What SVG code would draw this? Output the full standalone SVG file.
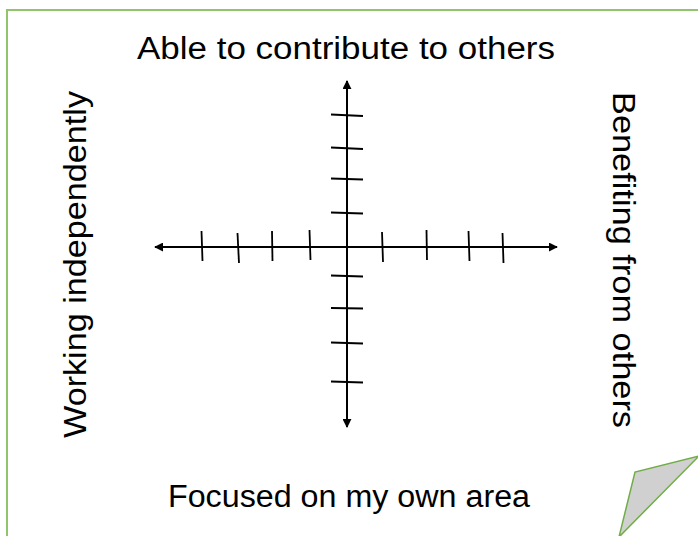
<svg xmlns="http://www.w3.org/2000/svg" width="698" height="536" viewBox="0 0 698 536">
  <defs>
    <style>
      .lbl { font-family: "Liberation Sans", Arial, sans-serif; font-size: 31px; fill: #000; }
      .axis { stroke: #000; stroke-width: 2; fill: none; }
      .tick { stroke: #000; stroke-width: 1.8; fill: none; }
    </style>
    <marker id="arrow" viewBox="0 0 10 10" refX="9" refY="5" markerWidth="4.5" markerHeight="4.5" orient="auto-start-reverse" markerUnits="strokeWidth">
      <path d="M0,0 L10,5 L0,10 z" fill="#000"/>
    </marker>
  </defs>
  <rect width="698" height="536" fill="#fff"/>
  <g id="frame">
    <rect x="7" y="10" width="700" height="540" fill="none" stroke="#92c46c" stroke-width="2"/>
  </g>
  <g id="fold">
    <polygon points="619,537 635,472 699,456" fill="#d0d0d0" stroke="#70ad47" stroke-width="1.5" stroke-linejoin="miter"/>
  </g>
  <g id="label-top">
    <text class="lbl" x="137" y="59" textLength="418" lengthAdjust="spacingAndGlyphs">Able to contribute to others</text>
  </g>
  <g id="label-bottom">
    <text class="lbl" x="168" y="507" textLength="362" lengthAdjust="spacingAndGlyphs">Focused on my own area</text>
  </g>
  <g id="label-left">
    <text class="lbl" transform="translate(86,438) rotate(-90)" x="0" y="0" textLength="347" lengthAdjust="spacingAndGlyphs">Working independently</text>
  </g>
  <g id="label-right">
    <text class="lbl" transform="translate(613,92) rotate(90)" x="0" y="0" textLength="336" lengthAdjust="spacingAndGlyphs">Benefiting from others</text>
  </g>
  <g id="connectors">
    <line class="axis" x1="347" y1="247" x2="155" y2="247" marker-end="url(#arrow)"/>
    <line class="axis" x1="347" y1="247" x2="557" y2="247" marker-end="url(#arrow)"/>
    <line class="axis" x1="347" y1="247" x2="347" y2="81" marker-end="url(#arrow)"/>
    <line class="axis" x1="347" y1="247" x2="347" y2="427" marker-end="url(#arrow)"/>
    <g id="ticks-x">
      <line class="tick" x1="201.5" y1="231" x2="202.5" y2="261"/>
      <line class="tick" x1="237.5" y1="233" x2="239" y2="263"/>
      <line class="tick" x1="272" y1="231" x2="272.5" y2="261"/>
      <line class="tick" x1="309.5" y1="230" x2="310.5" y2="260"/>
      <line class="tick" x1="382" y1="232" x2="383" y2="262"/>
      <line class="tick" x1="426.5" y1="230" x2="427" y2="260"/>
      <line class="tick" x1="468.5" y1="231" x2="469.5" y2="261"/>
      <line class="tick" x1="502.5" y1="233" x2="503.5" y2="263"/>
    </g>
    <g id="ticks-y">
      <line class="tick" x1="331" y1="114.5" x2="363" y2="116"/>
      <line class="tick" x1="331" y1="147.5" x2="363" y2="149"/>
      <line class="tick" x1="331" y1="178.5" x2="363" y2="179.5"/>
      <line class="tick" x1="331" y1="212.5" x2="363" y2="213.5"/>
      <line class="tick" x1="331" y1="275.5" x2="363" y2="276.5"/>
      <line class="tick" x1="331" y1="308" x2="363" y2="308.5"/>
      <line class="tick" x1="331" y1="342.5" x2="363" y2="343.5"/>
      <line class="tick" x1="331" y1="381.5" x2="363" y2="382.5"/>
    </g>
  </g>
</svg>
